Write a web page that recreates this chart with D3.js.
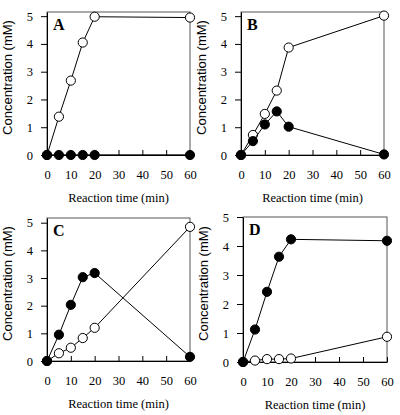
<!DOCTYPE html>
<html><head><meta charset="utf-8">
<script src="https://cdn.jsdelivr.net/npm/d3@7"></script>
<style>body{margin:0;background:#fff}svg{display:block}
.serif{font-family:"Liberation Serif","Times New Roman",Times,serif}
.sans{font-family:"Liberation Sans",Arial,Helvetica,sans-serif}
</style>
</head><body>
<script>
const times = [0, 5, 10, 15, 20, 60];
const xTicks = [0, 10, 20, 30, 40, 50, 60];
const yTicks = [0, 1, 2, 3, 4, 5];
const panelLabels = ["A", "B", "C", "D"];
const openA = [0, 1.38, 2.68, 4.05, 4.98, 4.95];
const filledA = [0, 0, 0, 0, 0, 0];
const openB = [0, 0.72, 1.48, 2.32, 3.87, 5.02];
const filledB = [0, 0.5, 1.1, 1.57, 1.02, 0.02];
const openC = [0, 0.28, 0.48, 0.83, 1.2, 4.85];
const filledC = [0, 0.95, 2.03, 3.03, 3.18, 0.15];
const openD = [0, 0.05, 0.1, 0.1, 0.12, 0.87];
const filledD = [0, 1.12, 2.42, 3.63, 4.23, 4.18];
const yMax = [5.15, 5.15, 5.17, 5.0];

const openS = [openA, openB, openC, openD];
const filledS = [filledA, filledB, filledC, filledD];
const boxes = [
  {l:47, r:190, t:12, b:155},
  {l:241, r:384, t:12, b:155},
  {l:47, r:190, t:218, b:361},
  {l:243, r:387, t:217, b:362}
];

const svg = d3.select("body").append("svg").attr("width", 400).attr("height", 415);

panelLabels.forEach((lab, i) => {
  const bx = boxes[i];
  const x = d3.scaleLinear().domain([0, 60]).range([bx.l, bx.r]);
  const y = d3.scaleLinear().domain([0, yMax[i]]).range([bx.b, bx.t]);
  const g = svg.append("g");
  g.append("rect").attr("x", bx.l).attr("y", bx.t).attr("width", bx.r - bx.l).attr("height", bx.b - bx.t)
    .attr("fill", "none").attr("stroke", "#555").attr("stroke-width", 1);
  const xa = g.append("g").attr("transform", `translate(0,${bx.b})`)
    .call(d3.axisBottom(x).tickValues(xTicks).tickSizeInner(-5).tickSizeOuter(0).tickPadding(15).tickFormat(d3.format("d")));
  const ya = g.append("g").attr("transform", `translate(${bx.l},0)`)
    .call(d3.axisLeft(y).tickValues(yTicks).tickSizeInner(6).tickSizeOuter(0).tickPadding(8).tickFormat(d3.format("d")));
  [xa, ya].forEach(a => {
    a.attr("font-family", null).attr("font-size", null);
    a.selectAll("path").attr("stroke", "#000");
    a.selectAll("line").attr("stroke", "#000");
    a.selectAll("text").attr("class", "serif").style("font-size", "12.5px").attr("fill", "#000");
  });
  const line = d3.line().x((d, j) => x(times[j])).y(d => y(d));
  const drawSeries = (vals, fill) => {
    g.append("path").datum(vals).attr("d", line).attr("fill", "none").attr("stroke", "#000").attr("stroke-width", 1);
    g.selectAll(null).data(vals).enter().append("circle")
      .attr("cx", (d, j) => x(times[j])).attr("cy", d => y(d)).attr("r", 4.6)
      .attr("fill", fill).attr("stroke", "#000").attr("stroke-width", 1);
  };
  drawSeries(openS[i], "#fff");
  drawSeries(filledS[i], "#000");
  g.append("text").attr("class", "serif").attr("x", bx.l + 6).attr("y", bx.t + 18).text(lab)
    .style("font-weight", "bold").style("font-size", "16px");
  g.append("text").attr("class", "serif").attr("x", (bx.l + bx.r) / 2).attr("y", bx.b + 47).attr("text-anchor", "middle")
    .style("font-size", "12.5px").text("Reaction time (min)");
  g.append("text").attr("class", "sans").attr("transform", `translate(${bx.l - 35},${(bx.t + bx.b) / 2 - 6}) rotate(-90)`)
    .attr("text-anchor", "middle").style("font-size", "13px")
    .text("Concentration (mM)");
});
</script>
</body></html>
